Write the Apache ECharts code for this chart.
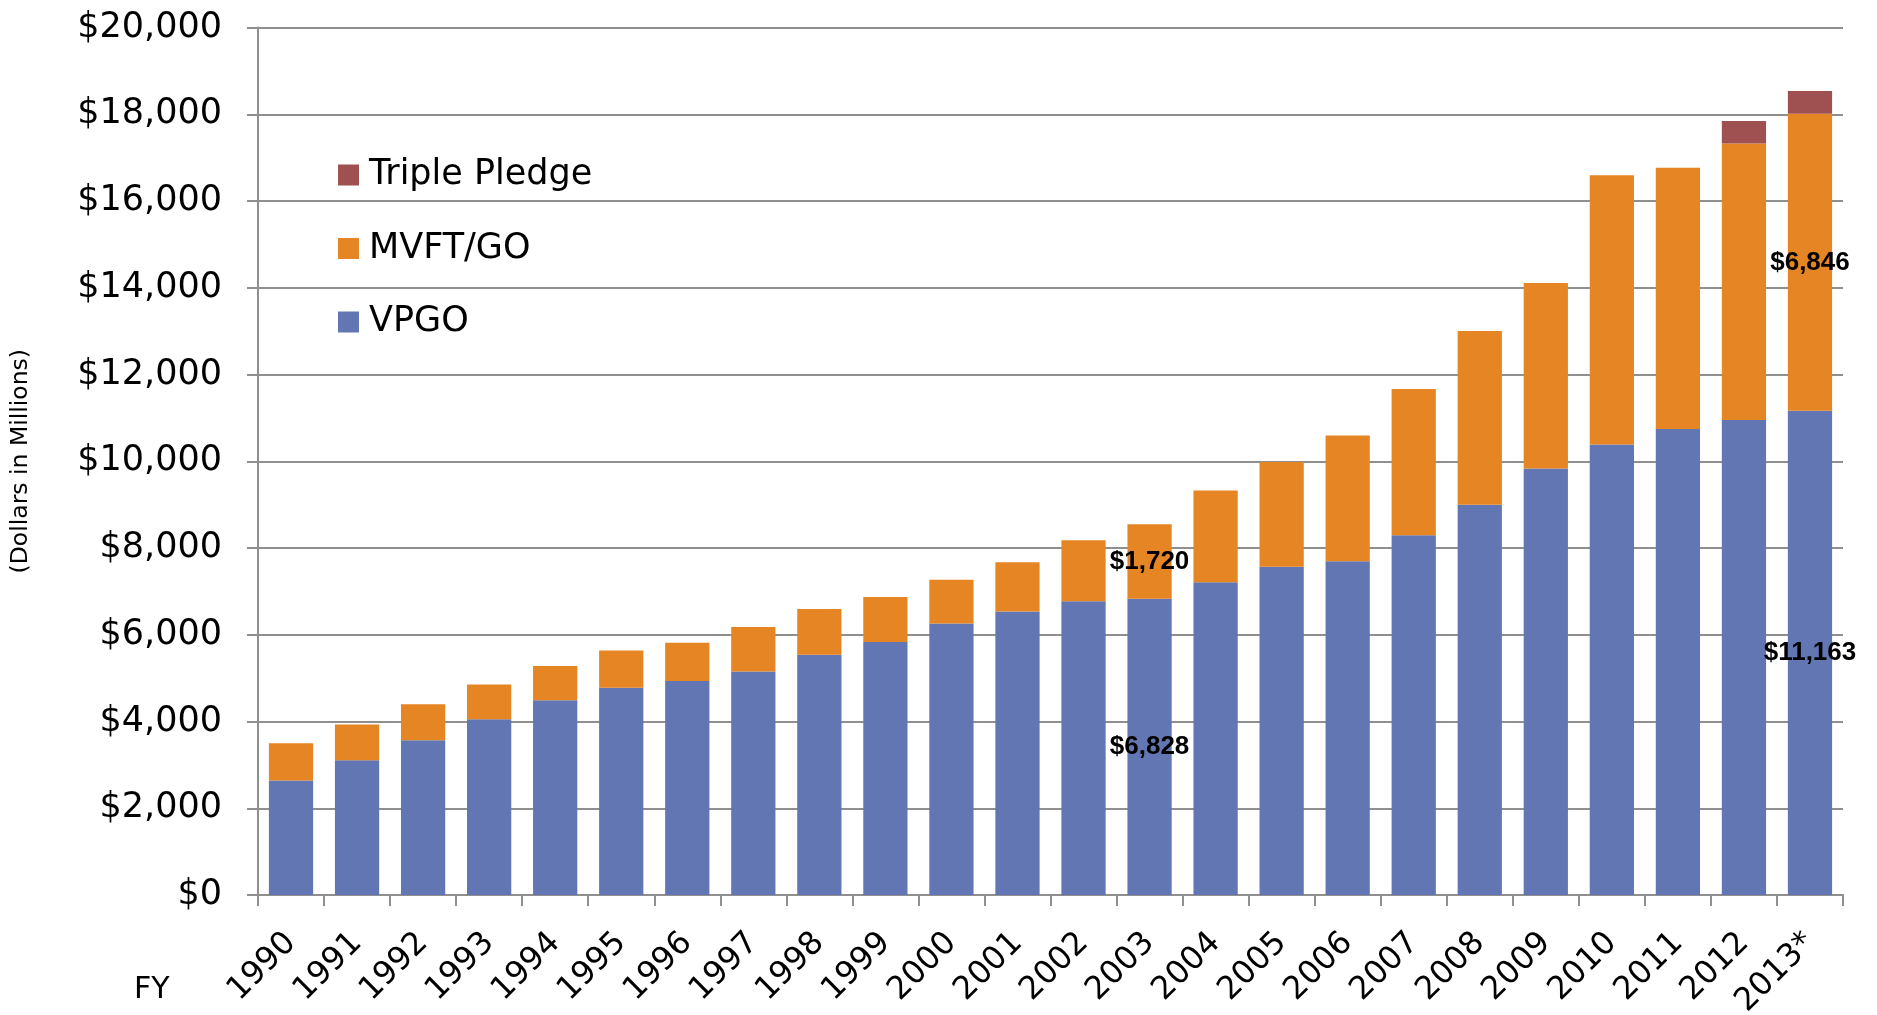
<!DOCTYPE html>
<html>
<head>
<meta charset="utf-8">
<script src="https://cdn.jsdelivr.net/npm/echarts@6/dist/echarts.min.js"></script>
<style>
html,body{margin:0;padding:0;background:#fff;}
#chart{width:1877px;height:1015px;}
</style>
</head>
<body>
<div id="chart"></div>
<script>
// ---- data ----
const years = ['1990','1991','1992','1993','1994','1995','1996','1997','1998','1999','2000','2001','2002','2003','2004','2005','2006','2007','2008','2009','2010','2011','2012','2013*'];
const vpgo = [2638,3108,3569,4054,4492,4777,4931,5154,5538,5831,6262,6538,6772,6828,7208,7569,7692,8292,9000,9831,10386,10741,10950,11163];
const mvftgo = [862,823,831,800,785,861,884,1023,1054,1038,1007,1131,1405,1720,2115,2416,2900,3375,4003,4278,6206,6024,6377,6846];
const triplePledge = [null,null,null,null,null,null,null,null,null,null,null,null,null,null,null,null,null,null,null,null,null,null,520,525];
const labeledYears = ['2003','2013*'];

const fmt = v => '$' + Number(v).toLocaleString('en-US');

const labelStyle = {
  show: true, position: 'inside', color: '#000', fontWeight: 'bold',
  fontSize: 26, fontFamily: 'Liberation Sans', formatter: p => fmt(p.value)
};
function withLabels(arr){
  return arr.map((v,i) => labeledYears.includes(years[i]) ? {value: v, label: labelStyle} : v);
}

const gray = '#8f8f8f';
const chart = echarts.init(document.getElementById('chart'), null, {renderer:'canvas'});
chart.setOption({
  animation: false,
  backgroundColor: '#fff',
  grid: {left: 258, right: 34, top: 27.5, bottom: 120, containLabel: false, outerBoundsMode: 'none'},
  legend: {
    orient: 'vertical', left: 338, top: 157, padding: 0,
    icon: 'rect', itemWidth: 21, itemHeight: 21, itemGap: 37.5,
    data: ['Triple Pledge','MVFT/GO','VPGO'],
    textStyle: {fontFamily: 'DejaVu Sans', fontSize: 35, color: '#000', lineHeight: 36, padding: [0,0,0,5]}
  },
  xAxis: {
    type: 'category', data: years,
    axisLine: {show: true, lineStyle: {color: gray, width: 2}},
    axisTick: {show: true, length: 11, lineStyle: {color: gray, width: 2}},
    axisLabel: {rotate: 45, margin: 43, color: '#000', fontFamily: 'DejaVu Sans', fontSize: 32, interval: 0}
  },
  yAxis: {
    type: 'value', min: 0, max: 20000, interval: 2000,
    name: '(Dollars in Millions)', nameLocation: 'middle', nameRotate: 90, nameGap: 225,
    nameTextStyle: {fontFamily: 'DejaVu Sans', fontSize: 23.5, color: '#000'},
    axisLine: {show: true, lineStyle: {color: gray, width: 2}},
    axisTick: {show: true, length: 11, lineStyle: {color: gray, width: 2}},
    splitLine: {show: true, lineStyle: {color: gray, width: 2}},
    axisLabel: {margin: 36, color: '#000', fontFamily: 'DejaVu Sans', fontSize: 35, formatter: v => fmt(v)}
  },
  series: [
    {name: 'VPGO', type: 'bar', stack: 'total', data: withLabels(vpgo), barCategoryGap: '33%',
     itemStyle: {color: '#6176B3'}},
    {name: 'MVFT/GO', type: 'bar', stack: 'total', data: withLabels(mvftgo),
     itemStyle: {color: '#E68523'}},
    {name: 'Triple Pledge', type: 'bar', stack: 'total', data: triplePledge,
     itemStyle: {color: '#9F5050'}}
  ],
  graphic: [
    {type: 'text', left: 134, top: 975, style: {text: 'FY', font: '30px "DejaVu Sans"', fill: '#000'}}
  ]
});
</script>
</body>
</html>
